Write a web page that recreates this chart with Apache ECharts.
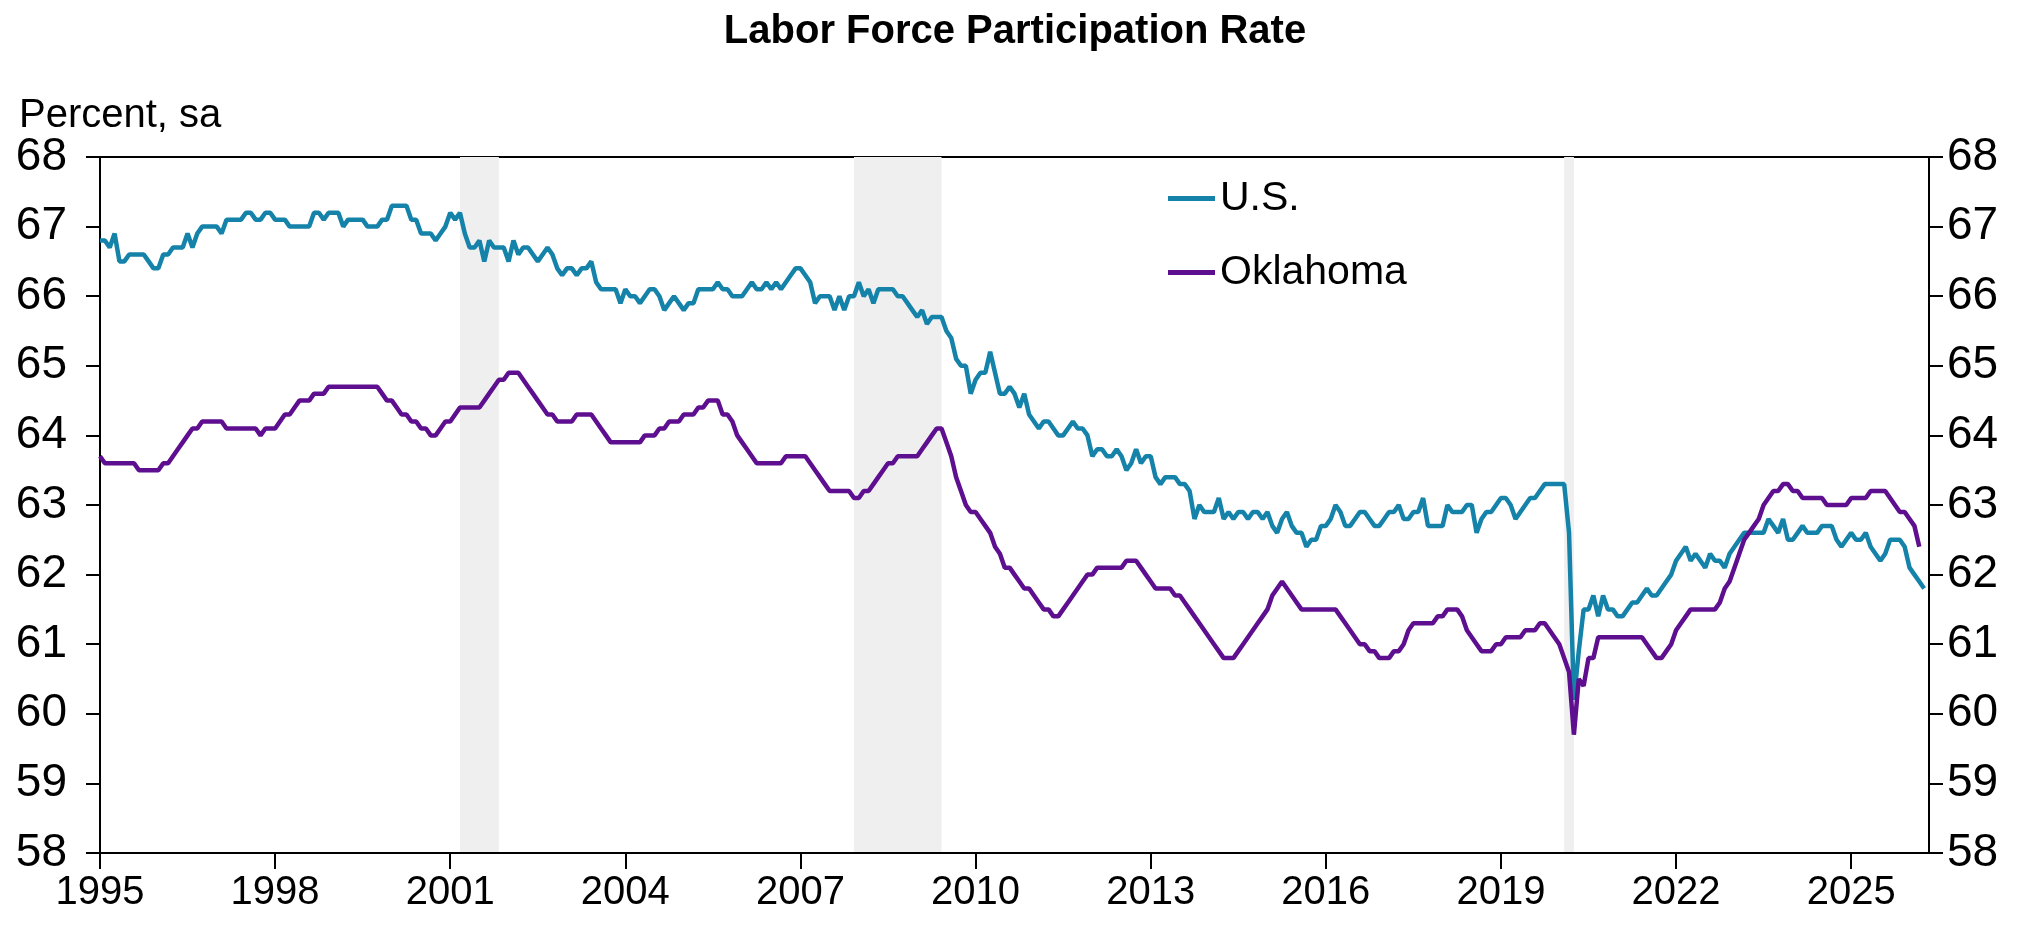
<!DOCTYPE html>
<html>
<head>
<meta charset="utf-8">
<title>Labor Force Participation Rate</title>
<script src="https://cdn.jsdelivr.net/npm/echarts@6.0.0/dist/echarts.min.js"></script>
<style>
	body { margin: 0; background: #fff; }
	#chart { width: 2030px; height: 934px; }
</style>
</head>
<body>
<div id="chart"></div>
<script>
// monthly data, Jan 1995 onward
var startYear = 1995;
var seriesNames = ['U.S.', 'Oklahoma'];
var xTickYears = [1995, 1998, 2001, 2004, 2007, 2010, 2013, 2016, 2019, 2022, 2025];
var yTicks = [58, 59, 60, 61, 62, 63, 64, 65, 66, 67, 68];
// recession periods (decimal years)
var recessions = [
	[2001 + 2 / 12, 2001 + 10 / 12],
	[2007 + 11 / 12, 2009 + 5 / 12],
	[2020 + 1 / 12, 2020 + 3 / 12]
];

var usRate = [
	66.8, 66.8, 66.7, 66.9, 66.5, 66.5, 66.6, 66.6, 66.6, 66.6, 66.5, 66.4, // 1995
	66.4, 66.6, 66.6, 66.7, 66.7, 66.7, 66.9, 66.7, 66.9, 67.0, 67.0, 67.0,
	67.0, 66.9, 67.1, 67.1, 67.1, 67.1, 67.2, 67.2, 67.1, 67.1, 67.2, 67.2,
	67.1, 67.1, 67.1, 67.0, 67.0, 67.0, 67.0, 67.0, 67.2, 67.2, 67.1, 67.2,
	67.2, 67.2, 67.0, 67.1, 67.1, 67.1, 67.1, 67.0, 67.0, 67.0, 67.1, 67.1,
	67.3, 67.3, 67.3, 67.3, 67.1, 67.1, 66.9, 66.9, 66.9, 66.8, 66.9, 67.0, // 2000
	67.2, 67.1, 67.2, 66.9, 66.7, 66.7, 66.8, 66.5, 66.8, 66.7, 66.7, 66.7,
	66.5, 66.8, 66.6, 66.7, 66.7, 66.6, 66.5, 66.6, 66.7, 66.6, 66.4, 66.3,
	66.4, 66.4, 66.3, 66.4, 66.4, 66.5, 66.2, 66.1, 66.1, 66.1, 66.1, 65.9,
	66.1, 66.0, 66.0, 65.9, 66.0, 66.1, 66.1, 66.0, 65.8, 65.9, 66.0, 65.9,
	65.8, 65.9, 65.9, 66.1, 66.1, 66.1, 66.1, 66.2, 66.1, 66.1, 66.0, 66.0, // 2005
	66.0, 66.1, 66.2, 66.1, 66.1, 66.2, 66.1, 66.2, 66.1, 66.2, 66.3, 66.4,
	66.4, 66.3, 66.2, 65.9, 66.0, 66.0, 66.0, 65.8, 66.0, 65.8, 66.0, 66.0,
	66.2, 66.0, 66.1, 65.9, 66.1, 66.1, 66.1, 66.1, 66.0, 66.0, 65.9, 65.8,
	65.7, 65.8, 65.6, 65.7, 65.7, 65.7, 65.5, 65.4, 65.1, 65.0, 65.0, 64.6,
	64.8, 64.9, 64.9, 65.2, 64.9, 64.6, 64.6, 64.7, 64.6, 64.4, 64.6, 64.3, // 2010
	64.2, 64.1, 64.2, 64.2, 64.1, 64.0, 64.0, 64.1, 64.2, 64.1, 64.1, 64.0,
	63.7, 63.8, 63.8, 63.7, 63.7, 63.8, 63.7, 63.5, 63.6, 63.8, 63.6, 63.7,
	63.7, 63.4, 63.3, 63.4, 63.4, 63.4, 63.3, 63.3, 63.2, 62.8, 63.0, 62.9,
	62.9, 62.9, 63.1, 62.8, 62.9, 62.8, 62.9, 62.9, 62.8, 62.9, 62.9, 62.8,
	62.9, 62.7, 62.6, 62.8, 62.9, 62.7, 62.6, 62.6, 62.4, 62.5, 62.5, 62.7, // 2015
	62.7, 62.8, 63.0, 62.9, 62.7, 62.7, 62.8, 62.9, 62.9, 62.8, 62.7, 62.7,
	62.8, 62.9, 62.9, 63.0, 62.8, 62.8, 62.9, 62.9, 63.1, 62.7, 62.7, 62.7,
	62.7, 63.0, 62.9, 62.9, 62.9, 63.0, 63.0, 62.6, 62.8, 62.9, 62.9, 63.0,
	63.1, 63.1, 63.0, 62.8, 62.9, 63.0, 63.1, 63.1, 63.2, 63.3, 63.3, 63.3,
	63.3, 63.3, 62.6, 60.2, 60.9, 61.5, 61.5, 61.7, 61.4, 61.7, 61.5, 61.5, // 2020
	61.4, 61.4, 61.5, 61.6, 61.6, 61.7, 61.8, 61.7, 61.7, 61.8, 61.9, 62.0,
	62.2, 62.3, 62.4, 62.2, 62.3, 62.2, 62.1, 62.3, 62.2, 62.2, 62.1, 62.3,
	62.4, 62.5, 62.6, 62.6, 62.6, 62.6, 62.6, 62.8, 62.7, 62.6, 62.8, 62.5,
	62.5, 62.6, 62.7, 62.6, 62.6, 62.6, 62.7, 62.7, 62.7, 62.5, 62.4, 62.5,
	62.6, 62.5, 62.5, 62.6, 62.4, 62.3, 62.2, 62.3, 62.5, 62.5, 62.5, 62.4, // 2025
	62.1, 62.0, 61.9, 61.8
];

var okRate = [
	63.7, 63.6, 63.6, 63.6, 63.6, 63.6, 63.6, 63.6, 63.5, 63.5, 63.5, 63.5, // 1995
	63.5, 63.6, 63.6, 63.7, 63.8, 63.9, 64.0, 64.1, 64.1, 64.2, 64.2, 64.2,
	64.2, 64.2, 64.1, 64.1, 64.1, 64.1, 64.1, 64.1, 64.1, 64.0, 64.1, 64.1,
	64.1, 64.2, 64.3, 64.3, 64.4, 64.5, 64.5, 64.5, 64.6, 64.6, 64.6, 64.7,
	64.7, 64.7, 64.7, 64.7, 64.7, 64.7, 64.7, 64.7, 64.7, 64.7, 64.6, 64.5,
	64.5, 64.4, 64.3, 64.3, 64.2, 64.2, 64.1, 64.1, 64.0, 64.0, 64.1, 64.2, // 2000
	64.2, 64.3, 64.4, 64.4, 64.4, 64.4, 64.4, 64.5, 64.6, 64.7, 64.8, 64.8,
	64.9, 64.9, 64.9, 64.8, 64.7, 64.6, 64.5, 64.4, 64.3, 64.3, 64.2, 64.2,
	64.2, 64.2, 64.3, 64.3, 64.3, 64.3, 64.2, 64.1, 64.0, 63.9, 63.9, 63.9,
	63.9, 63.9, 63.9, 63.9, 64.0, 64.0, 64.0, 64.1, 64.1, 64.2, 64.2, 64.2,
	64.3, 64.3, 64.3, 64.4, 64.4, 64.5, 64.5, 64.5, 64.3, 64.3, 64.2, 64.0, // 2005
	63.9, 63.8, 63.7, 63.6, 63.6, 63.6, 63.6, 63.6, 63.6, 63.7, 63.7, 63.7,
	63.7, 63.7, 63.6, 63.5, 63.4, 63.3, 63.2, 63.2, 63.2, 63.2, 63.2, 63.1,
	63.1, 63.2, 63.2, 63.3, 63.4, 63.5, 63.6, 63.6, 63.7, 63.7, 63.7, 63.7,
	63.7, 63.8, 63.9, 64.0, 64.1, 64.1, 63.9, 63.7, 63.4, 63.2, 63.0, 62.9,
	62.9, 62.8, 62.7, 62.6, 62.4, 62.3, 62.1, 62.1, 62.0, 61.9, 61.8, 61.8, // 2010
	61.7, 61.6, 61.5, 61.5, 61.4, 61.4, 61.5, 61.6, 61.7, 61.8, 61.9, 62.0,
	62.0, 62.1, 62.1, 62.1, 62.1, 62.1, 62.1, 62.2, 62.2, 62.2, 62.1, 62.0,
	61.9, 61.8, 61.8, 61.8, 61.8, 61.7, 61.7, 61.6, 61.5, 61.4, 61.3, 61.2,
	61.1, 61.0, 60.9, 60.8, 60.8, 60.8, 60.9, 61.0, 61.1, 61.2, 61.3, 61.4,
	61.5, 61.7, 61.8, 61.9, 61.8, 61.7, 61.6, 61.5, 61.5, 61.5, 61.5, 61.5, // 2015
	61.5, 61.5, 61.5, 61.4, 61.3, 61.2, 61.1, 61.0, 61.0, 60.9, 60.9, 60.8,
	60.8, 60.8, 60.9, 60.9, 61.0, 61.2, 61.3, 61.3, 61.3, 61.3, 61.3, 61.4,
	61.4, 61.5, 61.5, 61.5, 61.4, 61.2, 61.1, 61.0, 60.9, 60.9, 60.9, 61.0,
	61.0, 61.1, 61.1, 61.1, 61.1, 61.2, 61.2, 61.2, 61.3, 61.3, 61.2, 61.1,
	61.0, 60.8, 60.6, 59.7, 60.5, 60.4, 60.8, 60.8, 61.1, 61.1, 61.1, 61.1, // 2020
	61.1, 61.1, 61.1, 61.1, 61.1, 61.1, 61.0, 60.9, 60.8, 60.8, 60.9, 61.0,
	61.2, 61.3, 61.4, 61.5, 61.5, 61.5, 61.5, 61.5, 61.5, 61.6, 61.8, 61.9,
	62.1, 62.3, 62.5, 62.6, 62.7, 62.8, 63.0, 63.1, 63.2, 63.2, 63.3, 63.3,
	63.2, 63.2, 63.1, 63.1, 63.1, 63.1, 63.1, 63.0, 63.0, 63.0, 63.0, 63.0,
	63.1, 63.1, 63.1, 63.1, 63.2, 63.2, 63.2, 63.2, 63.1, 63.0, 62.9, 62.9, // 2025
	62.8, 62.7, 62.4
];

// 字体 / 颜色
var FONT = "'Liberation Sans', Arial, sans-serif";
var usColor = '#1583a9';
var okColor = '#5d0f8f';

function toPoints(arr) {
	var out = [];
	for (var i = 0; i < arr.length; i++) {
		out.push([startYear + i / 12, arr[i]]);
	}
	return out;
}

var bands = [];
for (var i = 0; i < recessions.length; i++) {
	bands.push([{ xAxis: recessions[i][0] }, { xAxis: recessions[i][1] }]);
}

var chart = echarts.init(document.getElementById('chart'));

var option = {
	animation: false,
	backgroundColor: '#fff',
	title: {
		text: 'Labor Force Participation Rate',
		left: 'center',
		top: 7,
		textStyle: { fontFamily: FONT, fontSize: 40, fontWeight: 'bold', color: '#000' }
	},
	graphic: [{
		type: 'text',
		left: 19,
		top: 96,
		style: { text: 'Percent, sa', font: '40px ' + FONT, fill: '#000' }
	}],
	legend: {
		data: seriesNames,
		orient: 'vertical',
		left: 1163,
		top: 173,
		icon: 'rect',
		itemWidth: 47,
		itemHeight: 5,
		itemGap: 33,
		textStyle: { fontFamily: FONT, fontSize: 41, color: '#000', lineHeight: 41 }
	},
	grid: { left: 100, right: 101, top: 157, bottom: 81, containLabel: false },
	xAxis: [{
		type: 'value',
		min: 1995,
		max: 2026 + 4 / 12,
		interval: 3,
		z: 5,
		axisLine: { show: true, onZero: false, lineStyle: { color: '#000', width: 2 } },
		axisTick: { show: true, inside: false, length: 16, customValues: xTickYears, lineStyle: { color: '#000', width: 2 } },
		axisLabel: {
			customValues: xTickYears,
			margin: 20,
			fontFamily: FONT,
			fontSize: 40,
			color: '#000',
			formatter: function(v) { return String(Math.round(v)); }
		},
		splitLine: { show: false }
	}, {
		// top border
		type: 'value',
		position: 'top',
		min: 1995,
		max: 2026 + 4 / 12,
		z: 0,
		axisLine: { show: true, onZero: false, lineStyle: { color: '#000', width: 2 } },
		axisTick: { show: false },
		axisLabel: { show: false },
		splitLine: { show: false }
	}],
	yAxis: [{
		type: 'value',
		min: 58,
		max: 68,
		interval: 1,
		position: 'left',
		axisLine: { show: true, onZero: false, lineStyle: { color: '#000', width: 2 } },
		axisTick: { show: true, inside: false, length: 14, lineStyle: { color: '#000', width: 2 } },
		axisLabel: { margin: 33, fontFamily: FONT, fontSize: 46, color: '#000' },
		splitLine: { show: false }
	}, {
		type: 'value',
		min: 58,
		max: 68,
		interval: 1,
		position: 'right',
		axisLine: { show: true, onZero: false, lineStyle: { color: '#000', width: 2 } },
		axisTick: { show: true, inside: false, length: 14, lineStyle: { color: '#000', width: 2 } },
		axisLabel: { margin: 18, fontFamily: FONT, fontSize: 46, color: '#000' },
		splitLine: { show: false }
	}],
	series: [{
		// 衰退期阴影
		name: 'recession',
		type: 'line',
		data: [],
		z: 1,
		markArea: {
			silent: true,
			itemStyle: { color: '#efefef' },
			data: bands
		}
	}, {
		name: seriesNames[0],
		type: 'line',
		data: toPoints(usRate),
		showSymbol: false,
		symbol: 'none',
		z: 3,
		itemStyle: { color: usColor },
		lineStyle: { color: usColor, width: 4.5 }
	}, {
		name: seriesNames[1],
		type: 'line',
		data: toPoints(okRate),
		showSymbol: false,
		symbol: 'none',
		z: 4,
		itemStyle: { color: okColor },
		lineStyle: { color: okColor, width: 4.5 }
	}]
};

chart.setOption(option);
</script>
</body>
</html>
